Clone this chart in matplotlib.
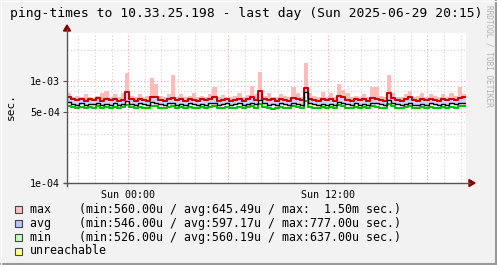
import numpy as np
import matplotlib
matplotlib.use('Agg')
import matplotlib.pyplot as plt
from matplotlib.patches import Rectangle
from matplotlib.lines import Line2D

# ping times in microseconds, 15 minute bins, first bin starts Sat ~20:19
t_start = -3.68   # hours relative to Sun 00:00
t_step = 0.25

max_line = [
    690, 660, 645, 670, 640, 665, 650, 675, 640, 660,
    648, 672, 640, 655, 780, 660, 642, 668, 650, 640,
    700, 690, 655, 640, 668, 680, 645, 660, 640, 672,
    655, 640, 665, 648, 670, 690, 640, 655, 668, 642,
    650, 670, 640, 660, 690, 650, 790, 670, 645, 660,
    640, 668, 650, 642, 680, 660, 648, 850, 672, 650,
    640, 665, 648, 660, 640, 715, 690, 655, 640, 668,
    645, 662, 640, 680, 672, 650, 642, 760, 680, 650,
    640, 665, 690, 648, 640, 662, 645, 668, 655, 640,
    660, 645, 668, 650, 685, 690]

peak_line = [
    760, 700, 720, 690, 745, 700, 680, 710, 760, 800,
    690, 740, 700, 760, 1190, 720, 690, 745, 700, 710,
    1070, 930, 720, 690, 750, 1150, 700, 740, 690, 710,
    760, 690, 720, 700, 740, 870, 690, 730, 700, 690,
    720, 760, 690, 730, 890, 740, 1230, 720, 760, 700,
    690, 740, 720, 700, 880, 760, 700, 1500, 760, 720,
    690, 780, 700, 760, 690, 940, 820, 760, 690, 720,
    700, 740, 690, 870, 870, 720, 700, 1150, 760, 700,
    690, 740, 790, 700, 720, 760, 690, 740, 720, 700,
    740, 700, 760, 720, 870, 740]

avg_line = [
    625, 598, 585, 605, 582, 600, 590, 608, 584, 598,
    588, 606, 582, 595, 640, 600, 584, 604, 590, 582,
    620, 612, 594, 582, 604, 610, 586, 598, 582, 606,
    594, 582, 602, 588, 604, 612, 582, 594, 604, 584,
    590, 606, 582, 598, 612, 590, 650, 604, 586, 598,
    582, 604, 590, 584, 610, 598, 588, 777, 606, 590,
    582, 602, 588, 598, 582, 630, 615, 594, 582, 604,
    586, 600, 582, 610, 606, 590, 584, 650, 612, 590,
    582, 602, 615, 588, 582, 600, 586, 604, 594, 582,
    598, 586, 604, 590, 610, 615]

min_line = [
    570, 555, 545, 562, 540, 558, 548, 565, 542, 555,
    546, 562, 540, 552, 585, 558, 542, 560, 548, 540,
    572, 566, 550, 540, 560, 566, 544, 555, 540, 562,
    550, 540, 558, 546, 560, 568, 540, 550, 560, 542,
    548, 562, 540, 555, 568, 548, 600, 560, 544, 526,
    540, 560, 548, 542, 566, 555, 546, 637, 562, 548,
    540, 558, 546, 555, 540, 585, 570, 550, 540, 560,
    544, 556, 540, 566, 562, 548, 542, 595, 566, 548,
    540, 558, 570, 546, 540, 556, 544, 560, 550, 540,
    555, 544, 560, 548, 566, 570]

legend_rows = [
    ('max', '#ffc0c0', 'max    (min:560.00u / avg:645.49u / max:  1.50m sec.)'),
    ('avg', '#c0c0ff', 'avg    (min:546.00u / avg:597.17u / max:777.00u sec.)'),
    ('min', '#c0ffc0', 'min    (min:526.00u / avg:560.19u / max:637.00u sec.)'),
    ('unreachable', '#ffff90', 'unreachable'),
]

W, H = 497, 265
plt.rcParams['font.family'] = 'DejaVu Sans Mono'

fig = plt.figure(figsize=(W / 100, H / 100), dpi=100, facecolor='#f2f2f2')
px_l, px_r, px_t, px_b = 67, 466, 33, 183
ax = fig.add_axes([px_l / W, 1 - px_b / H, (px_r - px_l) / W, (px_b - px_t) / H])
ax.set_facecolor('white')

n = len(max_line)
t = t_start + np.arange(n + 1) * t_step

def ext(v):
    v = np.array(v, dtype=float) * 1e-6
    return np.append(v, v[-1])

mx, pk, av, mn = ext(max_line), ext(peak_line), ext(avg_line), ext(min_line)
pk = np.maximum(pk, mx)

ax.set_yscale('log')
ax.set_xlim(t_start, t_start + 24)
ax.set_ylim(1e-4, 2.96e-3)

# grid
for h in range(-3, 21):
    major = h % 6 == 0
    ax.axvline(h, color='#f0a0a0' if major else '#d0d0d0', lw=0.8,
               ls=(0, (1, 2)), zorder=1)
for d in (1e-4, 1e-3):
    for k in range(2, 10):
        y = k * d
        if y > 2.96e-3:
            continue
        major = y == 5e-4
        ax.axhline(y, color='#f0a0a0' if major else '#d0d0d0', lw=0.8,
                   ls=(0, (1, 2)), zorder=1)
ax.axhline(1e-3, color='#f0a0a0', lw=0.8, ls=(0, (1, 2)), zorder=1)

# areas and lines
ax.fill_between(t, mx, pk, step='post', color='#ffbaba', lw=0, zorder=2)
ax.fill_between(t, av, mx, step='post', color='#d0d0ff', lw=0, zorder=2)
ax.step(t, mn, where='post', color='#00c000', lw=1.5, zorder=3)
ax.step(t, mx, where='post', color='#cc0000', lw=1.5, zorder=4)
ax.step(t, av, where='post', color='black', lw=1.0, zorder=5)

# axes / ticks
for s in ax.spines.values():
    s.set_visible(False)
ax.set_yticks([1e-4, 5e-4, 1e-3])
ax.set_yticklabels(['1e-04', '5e-04', '1e-03'])
ax.yaxis.set_minor_locator(matplotlib.ticker.NullLocator())
ax.set_xticks([0, 12])
ax.set_xticklabels(['Sun 00:00', 'Sun 12:00'])
ax.tick_params(axis='both', labelsize=7.2, length=3, width=0.8, color='#555555',
               colors='black', pad=2)
ax.tick_params(axis='x', length=0, pad=5)

def fx(p):
    return p / W

def fy(p):
    return 1 - p / H

fig.add_artist(Line2D([fx(px_l), fx(px_l)], [fy(px_b + 3), fy(29)], color='#555555', lw=1))
fig.add_artist(Line2D([fx(px_l - 3), fx(470)], [fy(px_b), fy(px_b)], color='#555555', lw=1))
fig.add_artist(plt.Polygon([[fx(px_l - 3.5), fy(31)], [fx(px_l + 3.5), fy(31)], [fx(px_l), fy(25)]],
                           closed=True, color='#880000', transform=fig.transFigure))
fig.add_artist(plt.Polygon([[fx(469), fy(px_b - 3.5)], [fx(469), fy(px_b + 3.5)], [fx(475), fy(px_b)]],
                           closed=True, color='#880000', transform=fig.transFigure))

# texts
fig.text(fx(246), fy(13), 'ping-times to 10.33.25.198 - last day (Sun 2025-06-29 20:15)',
         ha='center', va='center', fontsize=9.4)
fig.text(fx(11), fy(107), 'sec.', rotation=90, ha='center', va='center', fontsize=8)
fig.text(fx(489), fy(5), 'RRDTOOL / TOBI OETIKER', rotation=-90, ha='center', va='top',
         fontsize=5.6, color='#b0b0b0')

for i, (name, col, label) in enumerate(legend_rows):
    yc = 209 + i * 14
    fig.add_artist(Rectangle((fx(15), fy(yc + 3.5)), 7 / W, 7 / H, transform=fig.transFigure,
                             facecolor=col, edgecolor='#444444', lw=0.8))
    fig.text(fx(30), fy(yc), label, ha='left', va='center', fontsize=8.4)

# frame
fig.add_artist(Line2D([0, 1], [fy(264), fy(264)], color='#999999', lw=1.5))
fig.add_artist(Line2D([fx(496), fx(496)], [0, 1], color='#999999', lw=1.5))
fig.add_artist(Line2D([0, 1], [fy(0.5), fy(0.5)], color='#fcfcfc', lw=1))
fig.add_artist(Line2D([fx(0.5), fx(0.5)], [0, 1], color='#fcfcfc', lw=1))

fig.savefig('out.png', dpi=100, facecolor=fig.get_facecolor())
